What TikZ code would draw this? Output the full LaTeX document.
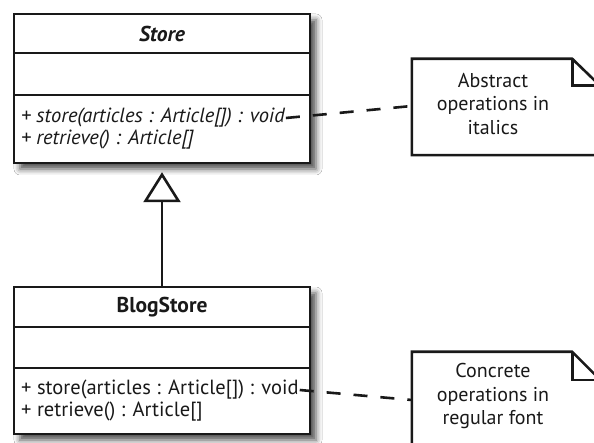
\documentclass[tikz,border=0pt]{standalone}
\usepackage{fontspec}
\setmainfont{PT Sans}
\usetikzlibrary{arrows.meta,shadows.blur,calc}
\begin{document}
\begin{tikzpicture}[x=1pt,y=-1pt,
  ink/.style={draw=black!90, line width=2.8pt},
  classbox/.style={ink, fill=white, inner sep=0pt, outer sep=0pt,
    blur shadow={shadow xshift=6pt, shadow yshift=-6pt, shadow blur radius=6pt, shadow opacity=70}},
  divider/.style={draw=black!90, line width=2.4pt},
  txt/.style={text=black!90, font=\fontsize{20.5}{22}\selectfont, inner sep=0pt},
  optxt/.style={txt, anchor=west},
  notetxt/.style={txt, align=center, font=\fontsize{20}{23.5}\selectfont},
  noteline/.style={draw=black!90, line width=2.6pt, line join=miter},
  gen/.style={draw=black!90, line width=2.6pt, -{Triangle[open, length=30pt, width=37pt, line width=2.6pt]}},
  dashedlink/.style={draw=black!90, line width=2.6pt, dash pattern=on 14pt off 13pt}
]
\useasboundingbox (0,0) rectangle (594,443);
\fill[white] (0,0) rectangle (594,443);

% Store class
\path[classbox] (14,14) rectangle (310,163);
\node[inner sep=0pt, minimum width=296pt, minimum height=149pt] (store) at (162,88.5) {};
\draw[divider] (14,53) -- (310,53);
\draw[divider] (14,95) -- (310,95);
\node[txt, font=\fontsize{21.5}{22}\selectfont\bfseries\itshape] (storeT) at (162,34) {Store};
\node[optxt, font=\fontsize{20.5}{22}\selectfont\itshape] (op1) at (21,118) {+ store(articles : Article[]) : void};
\node[optxt, font=\fontsize{20.5}{22}\selectfont\itshape] (op2) at (21,140) {+ retrieve() : Article[]};

% BlogStore class
\path[classbox] (14,287) rectangle (310,434);
\node[inner sep=0pt, minimum width=296pt, minimum height=147pt] (blog) at (162,360.5) {};
\draw[divider] (14,327) -- (310,327);
\draw[divider] (14,368) -- (310,368);
\node[txt, font=\fontsize{21.5}{22}\selectfont\bfseries] (blogT) at (162,307) {BlogStore};
\node[optxt] (bop1) at (21,390) {+ store(articles : Article[]) : void};
\node[optxt] (bop2) at (21,412) {+ retrieve() : Article[]};

% generalization
\draw[gen, shorten >=9pt] (blog.north) -- (store.south);

% note 1
\node[inner sep=0pt, minimum width=188pt, minimum height=96pt] (n1) at (506,107) {};
\draw[noteline] (n1.north west) -- ($(n1.north east)+(-28,0)$) -- ($(n1.north east)+(0,27)$)
  -- (n1.south east) -- (n1.south west) -- cycle;
\draw[noteline] ($(n1.north east)+(-28,0)$) -- ($(n1.north east)+(-28,27)$) -- ($(n1.north east)+(0,27)$);
\node[notetxt] (n1t) at (493,104) {Abstract\\operations in\\italics};
\coordinate (n1in) at ($(n1.west)+(0,-1)$);

% note 2
\node[inner sep=0pt, minimum width=188pt, minimum height=96pt] (n2) at (506,400) {};
\draw[noteline] (n2.north west) -- ($(n2.north east)+(-28,0)$) -- ($(n2.north east)+(0,28)$)
  -- (n2.south east) -- (n2.south west) -- cycle;
\draw[noteline] ($(n2.north east)+(-28,0)$) -- ($(n2.north east)+(-28,28)$) -- ($(n2.north east)+(0,28)$);
\node[notetxt] (n2t) at (493,396) {Concrete\\operations in\\regular font};
\coordinate (n2in) at ($(n2.west)+(0,0)$);

% dashed links
\draw[dashedlink] ([xshift=1pt]op1.east) -- (n1in);
\draw[dashedlink] ([xshift=1pt]bop1.east) -- (n2in);
\end{tikzpicture}
\end{document}
